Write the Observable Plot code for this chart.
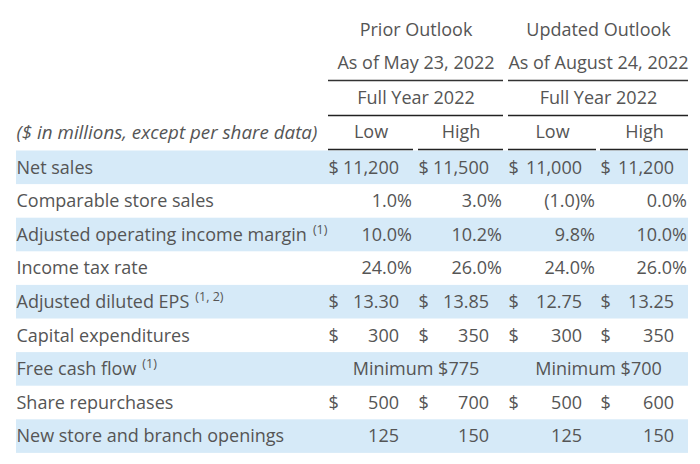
<!DOCTYPE html>
<html>
<head>
<meta charset="utf-8">
<script src="https://cdn.jsdelivr.net/npm/d3@7"></script>
<script src="https://cdn.jsdelivr.net/npm/@observablehq/plot@0.6"></script>
<style>
  html, body { margin: 0; padding: 0; background: #fff; }
  #chart { width: 700px; height: 464px; }
</style>
</head>
<body>
<div id="chart"></div>
<script>
// ---- Data ----
const outlookTitles = ["Prior Outlook", "Updated Outlook"];
const outlookDates = ["As of May 23, 2022", "As of August 24, 2022"];
const periodLabels = ["Full Year 2022", "Full Year 2022"];
const boundLabels = ["Low", "High", "Low", "High"];
const unitNote = "($ in millions, except per share data)";

const rowLabels = [
  "Net sales",
  "Comparable store sales",
  "Adjusted operating income margin",
  "Income tax rate",
  "Adjusted diluted EPS",
  "Capital expenditures",
  "Free cash flow",
  "Share repurchases",
  "New store and branch openings"
];
const rowFootnotes = ["", "", "(1)", "", "(1, 2)", "", "(1)", "", ""];
// unit kinds: "$" money, "%" percent, "eps" dollars per share, "min" minimum text, "n" count
const rowUnits = ["$", "%", "%", "%", "eps", "$", "min", "$", "n"];

const priorLow    = [11200,  1.0, 10.0, 24.0, 13.30, 300, null, 500, 125];
const priorHigh   = [11500,  3.0, 10.2, 26.0, 13.85, 350, null, 700, 150];
const updatedLow  = [11000, -1.0,  9.8, 24.0, 12.75, 300, null, 500, 125];
const updatedHigh = [11200,  0.0, 10.0, 26.0, 13.25, 350, null, 600, 150];
const fcfMinimum  = [775, 700]; // prior, updated

// ---- Layout (not data) ----
const W = 700, H = 464;
const labelX = 16;
const tableRight = 688;
const colLeft = [328, 418, 508, 600];
const colRight = [413, 503, 596, 688];
const groupLeft = [colLeft[0], colLeft[2]];
const groupRight = [colRight[1], colRight[3]];
const rowTop0 = 150.5, rowH = 33.6;
const rowY = i => rowTop0 + rowH * (i + 0.5);
const headerY = [30, 63, 98, 132];
const ruleYs = [80, 115, 149];

const columns = [priorLow, priorHigh, updatedLow, updatedHigh];

function fmtValue(v, unit) {
  if (v == null) return null;
  if (unit === "%") {
    const s = d3.format(".1f")(Math.abs(v));
    return v < 0 ? `(${s})%` : `${s}%`;
  }
  if (unit === "eps") return d3.format(".2f")(v);
  return d3.format(",")(v);
}

// cells
const cells = [];
columns.forEach((col, c) => {
  col.forEach((v, r) => {
    if (v == null) return;
    const unit = rowUnits[r];
    cells.push({
      c, r, unit,
      text: fmtValue(v, unit),
      dollar: unit === "$" || unit === "eps"
    });
  });
});
const dollarCells = cells.filter(d => d.dollar);
const minimumCells = fcfMinimum.map((v, g) => ({g, r: rowUnits.indexOf("min"), text: `Minimum $${d3.format(",")(v)}`}));
const bandRows = rowLabels.map((d, i) => i).filter(i => i % 2 === 0);

const groups = [0, 1];
const textColor = "#555555";

const plot = Plot.plot({
  width: W,
  height: H,
  margin: 0,
  x: {type: "linear", domain: [0, W], range: [0, W], axis: null},
  y: {type: "linear", domain: [0, H], range: [0, H], axis: null},
  style: {fontFamily: "'Open Sans', sans-serif", fontSize: "18px", color: textColor, background: "#fff", overflow: "visible"},
  marks: [
    // shaded bands
    Plot.rect(bandRows, {
      x1: () => labelX, x2: () => tableRight,
      y1: i => rowTop0 + rowH * i, y2: i => rowTop0 + rowH * (i + 1),
      fill: "#d6eaf8"
    }),
    // header rules
    Plot.ruleY(groups, {y: () => ruleYs[0], x1: g => groupLeft[g], x2: g => groupRight[g], stroke: "#333", strokeWidth: 1.6}),
    Plot.ruleY(groups, {y: () => ruleYs[1], x1: g => groupLeft[g], x2: g => groupRight[g], stroke: "#222", strokeWidth: 1.6}),
    Plot.ruleY(boundLabels, {y: () => ruleYs[2], x1: (d, i) => colLeft[i], x2: (d, i) => colRight[i], stroke: "#222", strokeWidth: 1.6}),
    // header texts
    Plot.text(outlookTitles, {x: (d, g) => (groupLeft[g] + groupRight[g]) / 2, y: () => headerY[0], text: d => d, fill: textColor}),
    Plot.text(outlookDates, {x: (d, g) => (groupLeft[g] + groupRight[g]) / 2, y: () => headerY[1], text: d => d, fill: textColor}),
    Plot.text(periodLabels, {x: (d, g) => (groupLeft[g] + groupRight[g]) / 2, y: () => headerY[2], text: d => d, fill: textColor}),
    Plot.text(boundLabels, {x: (d, i) => (colLeft[i] + colRight[i]) / 2, y: () => headerY[3], text: d => d, fill: textColor}),
    Plot.text([unitNote], {x: () => labelX, y: () => headerY[3], text: d => d, textAnchor: "start", fontStyle: "italic", fontSize: 18.8, fill: textColor}),
    // row labels
    Plot.text(rowLabels, {x: () => labelX, y: (d, i) => rowY(i), text: d => d, textAnchor: "start", fill: textColor}),
    // dollar signs
    Plot.text(dollarCells, {x: d => colLeft[d.c], y: d => rowY(d.r), text: () => "$", textAnchor: "start", fill: textColor}),
    // values
    Plot.text(cells, {
      x: d => colRight[d.c] - (d.unit === "%" ? 1.5 : 14.5),
      y: d => rowY(d.r), text: d => d.text, textAnchor: "end", fill: textColor
    }),
    // minimum free cash flow
    Plot.text(minimumCells, {x: d => (groupLeft[d.g] + groupRight[d.g]) / 2, y: d => rowY(d.r), text: d => d.text, fill: textColor})
  ]
});

// footnote superscripts on row labels
d3.select(plot).selectAll("text").each(function () {
  const idx = rowLabels.indexOf(this.textContent);
  if (idx < 0) return;
  const fn = rowFootnotes[idx];
  if (!fn) return;
  d3.select(this).append("tspan")
    .attr("dx", 6)
    .attr("dy", -7)
    .attr("font-size", "12.5px")
    .text(fn);
});

document.getElementById("chart").appendChild(plot);
</script>
</body>
</html>
